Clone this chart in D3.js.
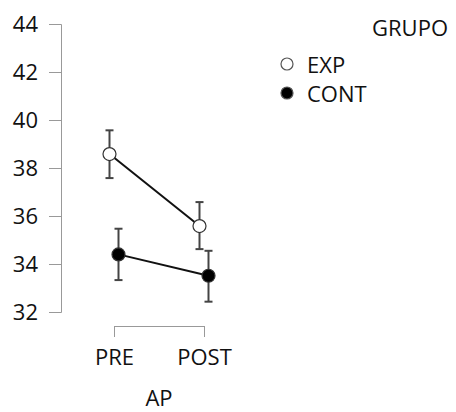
<!DOCTYPE html>
<html>
<head>
<meta charset="utf-8">
<script src="https://cdn.jsdelivr.net/npm/d3@7"></script>
<style>
  body { margin: 0; background: #fff; }
  text { font-family: "Open Sans", "Noto Sans", sans-serif; fill: #111; }
</style>
</head>
<body>
<script>
// data
var times = ["PRE", "POST"];
var groups = ["EXP", "CONT"];
var expMean = [38.58, 35.58];
var expLow = [37.58, 34.62];
var expHigh = [39.57, 36.58];
var contMean = [34.40, 33.51];
var contLow = [33.33, 32.43];
var contHigh = [35.47, 34.55];
var yTicks = [32, 34, 36, 38, 40, 42, 44];

var series = [
  {name: groups[0], fill: "#fff", mean: expMean, low: expLow, high: expHigh, dodge: -4.5},
  {name: groups[1], fill: "#000", mean: contMean, low: contLow, high: contHigh, dodge: 4.5}
];

var svg = d3.select("body").append("svg")
    .attr("width", 456)
    .attr("height", 412);

var y = d3.scaleLinear().domain([32, 44]).range([312, 24]);
var x = d3.scalePoint().domain(times).range([114, 204]);

// y axis
var yAxis = svg.append("g")
    .attr("transform", "translate(61,0)")
    .call(d3.axisLeft(y).tickValues(yTicks).tickSizeOuter(0).tickSize(12).tickPadding(11));
yAxis.select(".domain").attr("stroke", "#999");
yAxis.selectAll(".tick line").attr("stroke", "#999");
yAxis.selectAll(".tick text")
    .style("font-size", "22px")
    .attr("fill", "#111");

// x axis (bracket)
var xAxis = svg.append("g")
    .attr("transform", "translate(0,326)")
    .call(d3.axisBottom(x).tickSizeOuter(0).tickSize(11).tickPadding(12));
xAxis.select(".domain").attr("stroke", "#999");
xAxis.selectAll(".tick line").attr("stroke", "#999");
xAxis.selectAll(".tick text")
    .style("font-size", "22px")
    .attr("fill", "#111");

svg.append("text")
    .attr("x", (x("PRE") + x("POST")) / 2)
    .attr("y", 406)
    .attr("text-anchor", "middle")
    .style("font-size", "22px")
    .text("AP");

// lines, error bars, points
var line = d3.line()
    .x(function(d, i) { return x(times[i]) + d.dodge; })
    .y(function(d) { return y(d.v); });

series.forEach(function(s) {
  var pts = s.mean.map(function(v) { return {v: v, dodge: s.dodge}; });
  svg.append("path")
      .datum(pts)
      .attr("d", line)
      .attr("fill", "none")
      .attr("stroke", "#111")
      .attr("stroke-width", 2);

  var g = svg.append("g");
  times.forEach(function(t, i) {
    var cx = x(t) + s.dodge;
    g.append("line")
        .attr("x1", cx).attr("x2", cx)
        .attr("y1", y(s.low[i])).attr("y2", y(s.high[i]))
        .attr("stroke", "#444").attr("stroke-width", 2);
    [s.low[i], s.high[i]].forEach(function(v) {
      g.append("line")
          .attr("x1", cx - 4).attr("x2", cx + 4)
          .attr("y1", y(v)).attr("y2", y(v))
          .attr("stroke", "#444").attr("stroke-width", 2);
    });
  });
  g.selectAll("circle")
      .data(s.mean)
    .enter().append("circle")
      .attr("cx", function(d, i) { return x(times[i]) + s.dodge; })
      .attr("cy", function(d) { return y(d); })
      .attr("r", 6.5)
      .attr("fill", s.fill)
      .attr("stroke", "#333")
      .attr("stroke-width", 1.2);
});

// legend
svg.append("text")
    .attr("x", 448)
    .attr("y", 36)
    .attr("text-anchor", "end")
    .style("font-size", "22px")
    .text("GRUPO");

var legend = svg.selectAll(".legend")
    .data(series)
  .enter().append("g")
    .attr("class", "legend")
    .attr("transform", function(d, i) { return "translate(287," + (64 + i * 29) + ")"; });

legend.append("circle")
    .attr("r", 6)
    .attr("fill", function(d) { return d.fill; })
    .attr("stroke", "#555")
    .attr("stroke-width", 1.2);

legend.append("text")
    .attr("x", 20)
    .attr("y", 9)
    .style("font-size", "22px")
    .text(function(d) { return d.name; });
</script>
</body>
</html>
